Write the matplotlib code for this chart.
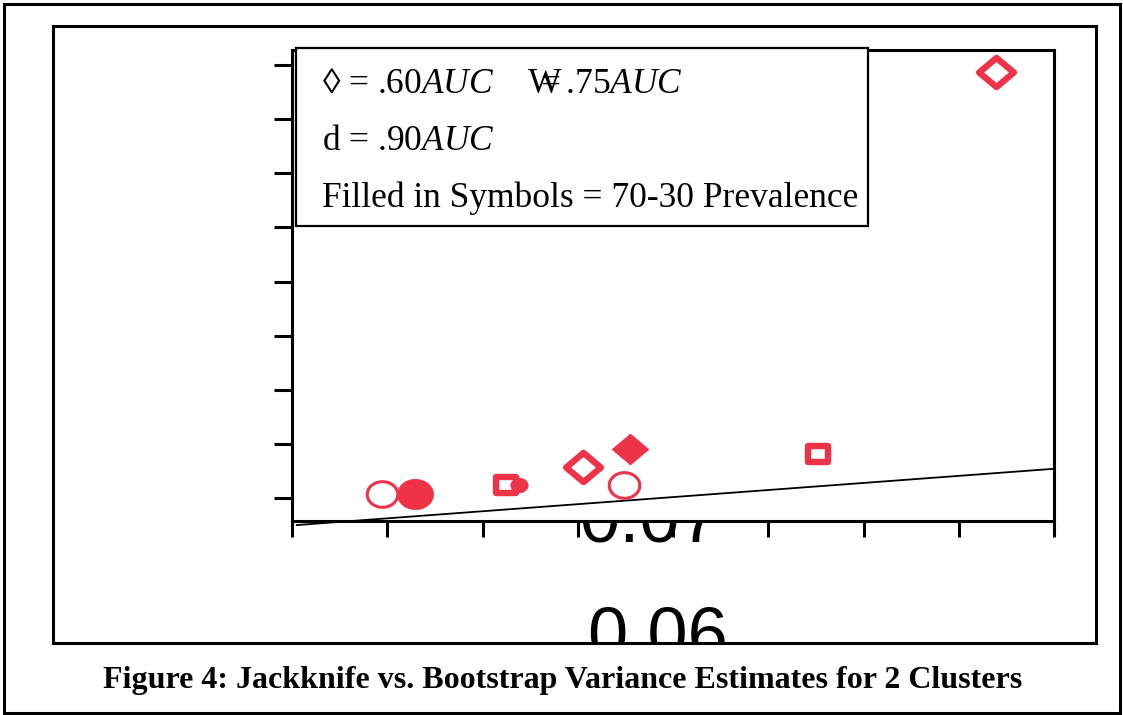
import matplotlib
matplotlib.use("Agg")
import matplotlib.pyplot as plt
from matplotlib.path import Path
from matplotlib.markers import MarkerStyle
from matplotlib.patches import Rectangle
import numpy as np

# Data (axis units, tick labels are not shown)
open_circle_x = [0.94, 3.49]
open_circle_y = [0.08, 0.24]
filled_circle_x = [1.29]
filled_circle_y = [0.08]
small_circle_x = [2.38]
small_circle_y = [0.24]
open_square_x = [2.25, 5.52]
open_square_y = [0.24, 0.81]
open_diamond_x = [3.06, 7.39]
open_diamond_y = [0.57, 7.87]
filled_diamond_x = [3.55]
filled_diamond_y = [0.91]
line_x = [0.05, 8.0]
line_y = [-0.50, 0.54]

legend_lines = [
    "\u25ca = .60$AUC$    $\\mathrm{W}\\!\\!\\!\\!\\!\\!=$.75$AUC$",
    "d = .90$AUC$",
    "Filled in Symbols = 70-30 Prevalence",
]
caption = "Figure 4: Jackknife vs. Bootstrap Variance Estimates for 2 Clusters"

plt.rcParams["mathtext.fontset"] = "custom"
plt.rcParams["mathtext.rm"] = "Liberation Serif"
plt.rcParams["mathtext.it"] = "Liberation Serif:italic"

W, H = 1123, 715
RED = "#ee3349"


def fx(x):
    return x / W


def fy(y):
    return 1 - y / H


# squashed marker shapes (the original is stretched sideways)
asp = 0.84
t = np.linspace(0, 2 * np.pi, 80)
ellipse = Path(np.column_stack([np.cos(t), asp * np.sin(t)]), closed=True)
rect = Path([(-1, -asp), (1, -asp), (1, asp), (-1, asp), (-1, -asp)], closed=True)
diamond = Path([(0, -asp), (1, 0), (0, asp), (-1, 0), (0, -asp)], closed=True)
m_ell = MarkerStyle(ellipse, joinstyle="miter")
m_rect = MarkerStyle(rect, joinstyle="miter")
m_dia = MarkerStyle(diamond, joinstyle="miter")

fig = plt.figure(figsize=(W / 100, H / 100), dpi=100)

# outer border
fig.add_artist(Rectangle((fx(4), fy(713)), fx(1116), 709 / H, transform=fig.transFigure,
                         fill=False, lw=2.2, ec="black"))

# inner frame
frame = fig.add_axes([fx(53), fy(643), fx(1096 - 53), (643 - 26) / H], zorder=0)
frame.set_xticks([])
frame.set_yticks([])
for s in frame.spines.values():
    s.set_linewidth(2.2)
frame.set_xlim(0, 1)
frame.set_ylim(0, 1)


def fr(x, y):
    return ((x - 53) / (1096 - 53), (643 - y) / (643 - 26))


frame.text(*fr(650, 541), "0.07", fontsize=52, family="Liberation Sans", ha="center",
           va="baseline", clip_on=True)
frame.text(*fr(657, 657), "0.06", fontsize=52, family="Liberation Sans", ha="center",
           va="baseline", clip_on=True)

# main plot
ax = fig.add_axes([fx(292), fy(521), fx(1054 - 292), (521 - 50) / H], zorder=1)
ax.set_facecolor("white")
ax.set_xlim(0, 8)
ax.set_ylim(-0.425, 8.28)
ax.set_xticks(range(0, 9))
ax.set_yticks(range(0, 9))
ax.set_xticklabels([])
ax.set_yticklabels([])
ax.tick_params(axis="y", direction="out", length=13, width=2.2)
ax.tick_params(axis="x", direction="out", length=11.5, width=2.2)
for s in ax.spines.values():
    s.set_linewidth(2.2)

ax.plot(line_x, line_y, color="black", lw=1.3, clip_on=False)

ax.plot(open_circle_x, open_circle_y, ls="none", marker=m_ell, ms=22, mfc="white",
        mec=RED, mew=2.2)
ax.plot(filled_circle_x, filled_circle_y, ls="none", marker=m_ell, ms=26, mfc=RED, mec=RED, mew=0.5)
ax.plot(open_square_x, open_square_y, ls="none", marker=m_rect, ms=14, mfc="white",
        mec=RED, mew=4.6)
ax.plot(small_circle_x, small_circle_y, ls="none", marker=m_ell, ms=12.5, mfc=RED, mec=RED, mew=0.5)
ax.plot(open_diamond_x, open_diamond_y, ls="none", marker=m_dia, ms=25, mfc="white",
        mec=RED, mew=4.6)
ax.plot(filled_diamond_x, filled_diamond_y, ls="none", marker=m_dia, ms=26.5, mfc=RED, mec=RED, mew=0.5)

# legend box
ax.add_patch(Rectangle((fx(296), fy(226)), fx(868 - 296), (226 - 48) / H, transform=fig.transFigure,
                       fc="white", ec="black", lw=1.6, zorder=5, clip_on=False))
kw = dict(fontsize=25.5, family="Liberation Serif", va="baseline", ha="left",
          transform=fig.transFigure, zorder=6)
fig.text(fx(322), fy(93), legend_lines[0], **kw)
fig.text(fx(322), fy(150), legend_lines[1], **kw)
fig.text(fx(322), fy(207), legend_lines[2], **kw)

# caption
fig.text(fx(563), fy(688), caption, fontsize=23, family="Liberation Serif",
         fontweight="bold", ha="center", va="baseline")

fig.savefig("out.png", dpi=100)
